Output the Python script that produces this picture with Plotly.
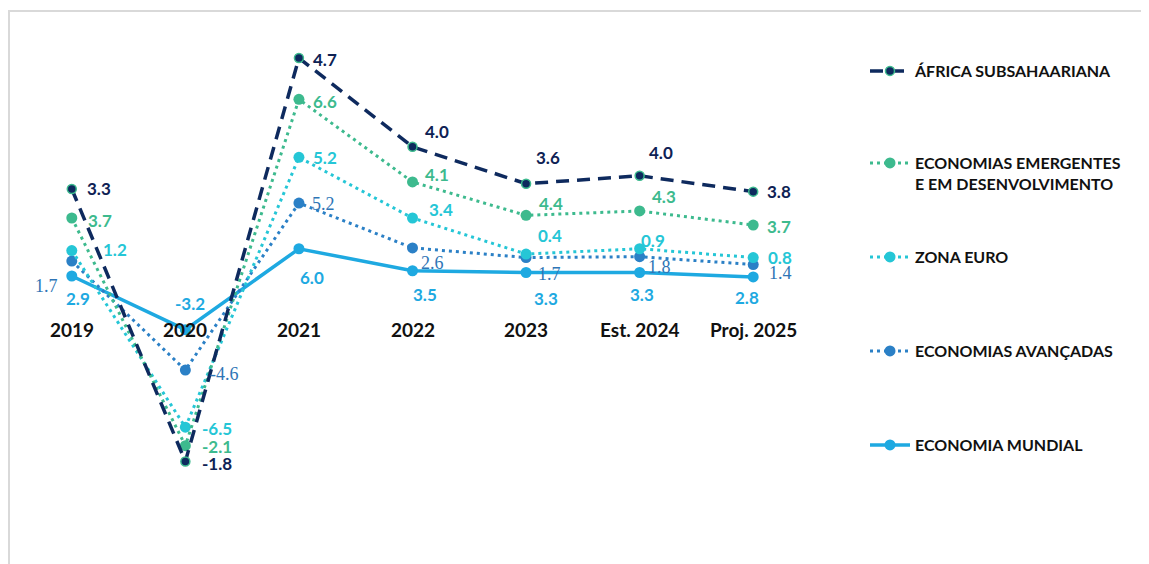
import numpy as np
import plotly.graph_objects as go

# ---------------- data ----------------
categories = ["2019", "2020", "2021", "2022", "2023", "Est. 2024", "Proj. 2025"]

mundial    = [2.9, -3.2, 6.0, 3.5, 3.3, 3.3, 2.8]
avancadas  = [1.7, -4.6, 5.2, 2.6, 1.7, 1.8, 1.4]
zona_euro  = [1.2, -6.5, 5.2, 3.4, 0.4, 0.9, 0.8]
emergentes = [3.7, -2.1, 6.6, 4.1, 4.4, 4.3, 3.7]
africa     = [3.3, -1.8, 4.7, 4.0, 3.6, 4.0, 3.8]

series_names = [
    "ECONOMIA MUNDIAL",
    "ECONOMIAS AVANÇADAS",
    "ZONA EURO",
    "ECONOMIAS EMERGENTES<br>E EM DESENVOLVIMENTO",
    "ÁFRICA SUBSAHAARIANA",
]
series_values = [mundial, avancadas, zona_euro, emergentes, africa]

# ---------------- styles ----------------
line_colors = ["#1ea9e1", "#2b80c6", "#25c6d6", "#3dba8e", "#0e2a5e"]
label_colors = ["#1ea9e1", "#2e75b6", "#25c6d6", "#3dba8e", "#0e2254"]
dashes = ["solid", "3px,4px", "3px,4px", "3px,4px", "13px,8px"]
widths = [3.5, 3, 3, 3, 3.5]
marker_sizes = [11, 11, 11, 11, 9]
label_fonts = ["Lato", "Liberation Serif", "Lato", "Lato", "Lato"]
label_weights = ["bold", "normal", "bold", "bold", "bold"]
label_sizes = [17, 18, 17, 17, 17]

# label offsets (pixels: dx right, dy up) per series per point
label_dx = [
    [6, 5, 13, 12, 20, 2, -6],
    [-25, 39, 25, 20, 23, 20, 27],
    [43, 32, 26, 28, 24, 13, 27],
    [28, 32, 26, 24, 25, 24, 26],
    [27, 32, 26, 24, 22, 21, 26],
]
label_dy = [
    [-22, 26, -29, -24, -26, -22, -21],
    [-25, -4, -1, -15, -16, -10, -8],
    [1, -1, 0, 9, 19, 8, 0],
    [-2, -1, -2, 7, 12, 14, -1],
    [0, -2, -1, 15, 26, 23, 0],
]

# legend positions (screen pixel y of first text line)
legend_py = [444, 350, 256, 162, 70]

# The page body adds an 8px margin; layout is computed in screen pixels.
OFF = 8
W, H = 1149, 564
PLOT_L, PLOT_T, PW, PH = 15, 20, 795, 520          # plot area in screen pixels
ML, MT = PLOT_L - OFF, PLOT_T - OFF
MR = W - ML - PW
MB = H - MT - PH


def px_to_paper_x(px):
    return (px - PLOT_L) / PW


def py_to_paper_y(py):
    return (PLOT_T + PH - py) / PH


ZERO_PY, PX_PER_UNIT = 301.5, 8.79

# stacked (cumulative) series, as in the original stacked line chart
stacked = np.cumsum(np.array(series_values, dtype=float), axis=0)
xidx = list(range(len(categories)))

fig = go.Figure()
annotations = []
legend_layouts = {}

for i, (name, vals) in enumerate(zip(series_names, series_values)):
    legend_id = "legend" if i == 0 else f"legend{i + 1}"
    fig.add_trace(go.Scatter(
        x=categories,
        y=stacked[i],
        name=name,
        mode="lines+markers",
        line=dict(color=line_colors[i], width=widths[i], dash=dashes[i]),
        marker=dict(
            size=marker_sizes[i],
            color=line_colors[i],
            line=dict(color="#3dba8e" if i == 4 else line_colors[i], width=1.5 if i == 4 else 0),
        ),
        legend=legend_id,
        showlegend=True,
        hoverinfo="skip",
    ))
    for j, v in enumerate(vals):
        annotations.append(dict(
            x=xidx[j], y=stacked[i][j], xref="x", yref="y",
            text=f"{v:.1f}", showarrow=False,
            xshift=label_dx[i][j], yshift=label_dy[i][j],
            xanchor="center", yanchor="middle",
            font=dict(family=label_fonts[i], size=label_sizes[i],
                      color=label_colors[i], weight=label_weights[i]),
        ))
    legend_layouts[legend_id] = dict(
        x=px_to_paper_x(865), xanchor="left",
        y=py_to_paper_y(legend_py[i] - 16), yanchor="top",
        valign="top",
        bgcolor="rgba(0,0,0,0)",
        font=dict(family="Lato", size=16, color="#111111", weight="bold"),
        itemwidth=40,
        itemclick=False, itemdoubleclick=False,
    )

# category labels along the zero line
for j, c in enumerate(categories):
    annotations.append(dict(
        x=xidx[j], y=0, xref="x", yref="y", text=c, showarrow=False,
        yshift=-28, xanchor="center", yanchor="middle",
        font=dict(family="Lato", size=19, color="#111111", weight="bold"),
    ))

# outer border (gray frame of the chart area)
shapes = [
    dict(type="line", xref="paper", yref="paper",
         x0=px_to_paper_x(8), x1=px_to_paper_x(W + 20),
         y0=py_to_paper_y(11), y1=py_to_paper_y(11),
         line=dict(color="#d9d9d9", width=2), layer="below"),
    dict(type="line", xref="paper", yref="paper",
         x0=px_to_paper_x(9), x1=px_to_paper_x(9),
         y0=py_to_paper_y(11), y1=py_to_paper_y(H + 20),
         line=dict(color="#d9d9d9", width=2), layer="below"),
]

fig.update_layout(
    width=W, height=H,
    margin=dict(l=ML, r=MR, t=MT, b=MB, autoexpand=False),
    paper_bgcolor="white", plot_bgcolor="white",
    xaxis=dict(range=[-0.5, 6.5], showgrid=False, zeroline=False,
               showticklabels=False, showline=False, fixedrange=True),
    yaxis=dict(range=[-(PLOT_T + PH - ZERO_PY) / PX_PER_UNIT,
                      (ZERO_PY - PLOT_T) / PX_PER_UNIT],
               showgrid=False, zeroline=False, showticklabels=False,
               showline=False, fixedrange=True),
    annotations=annotations,
    shapes=shapes,
    **legend_layouts,
)

fig.write_html("out.html")
